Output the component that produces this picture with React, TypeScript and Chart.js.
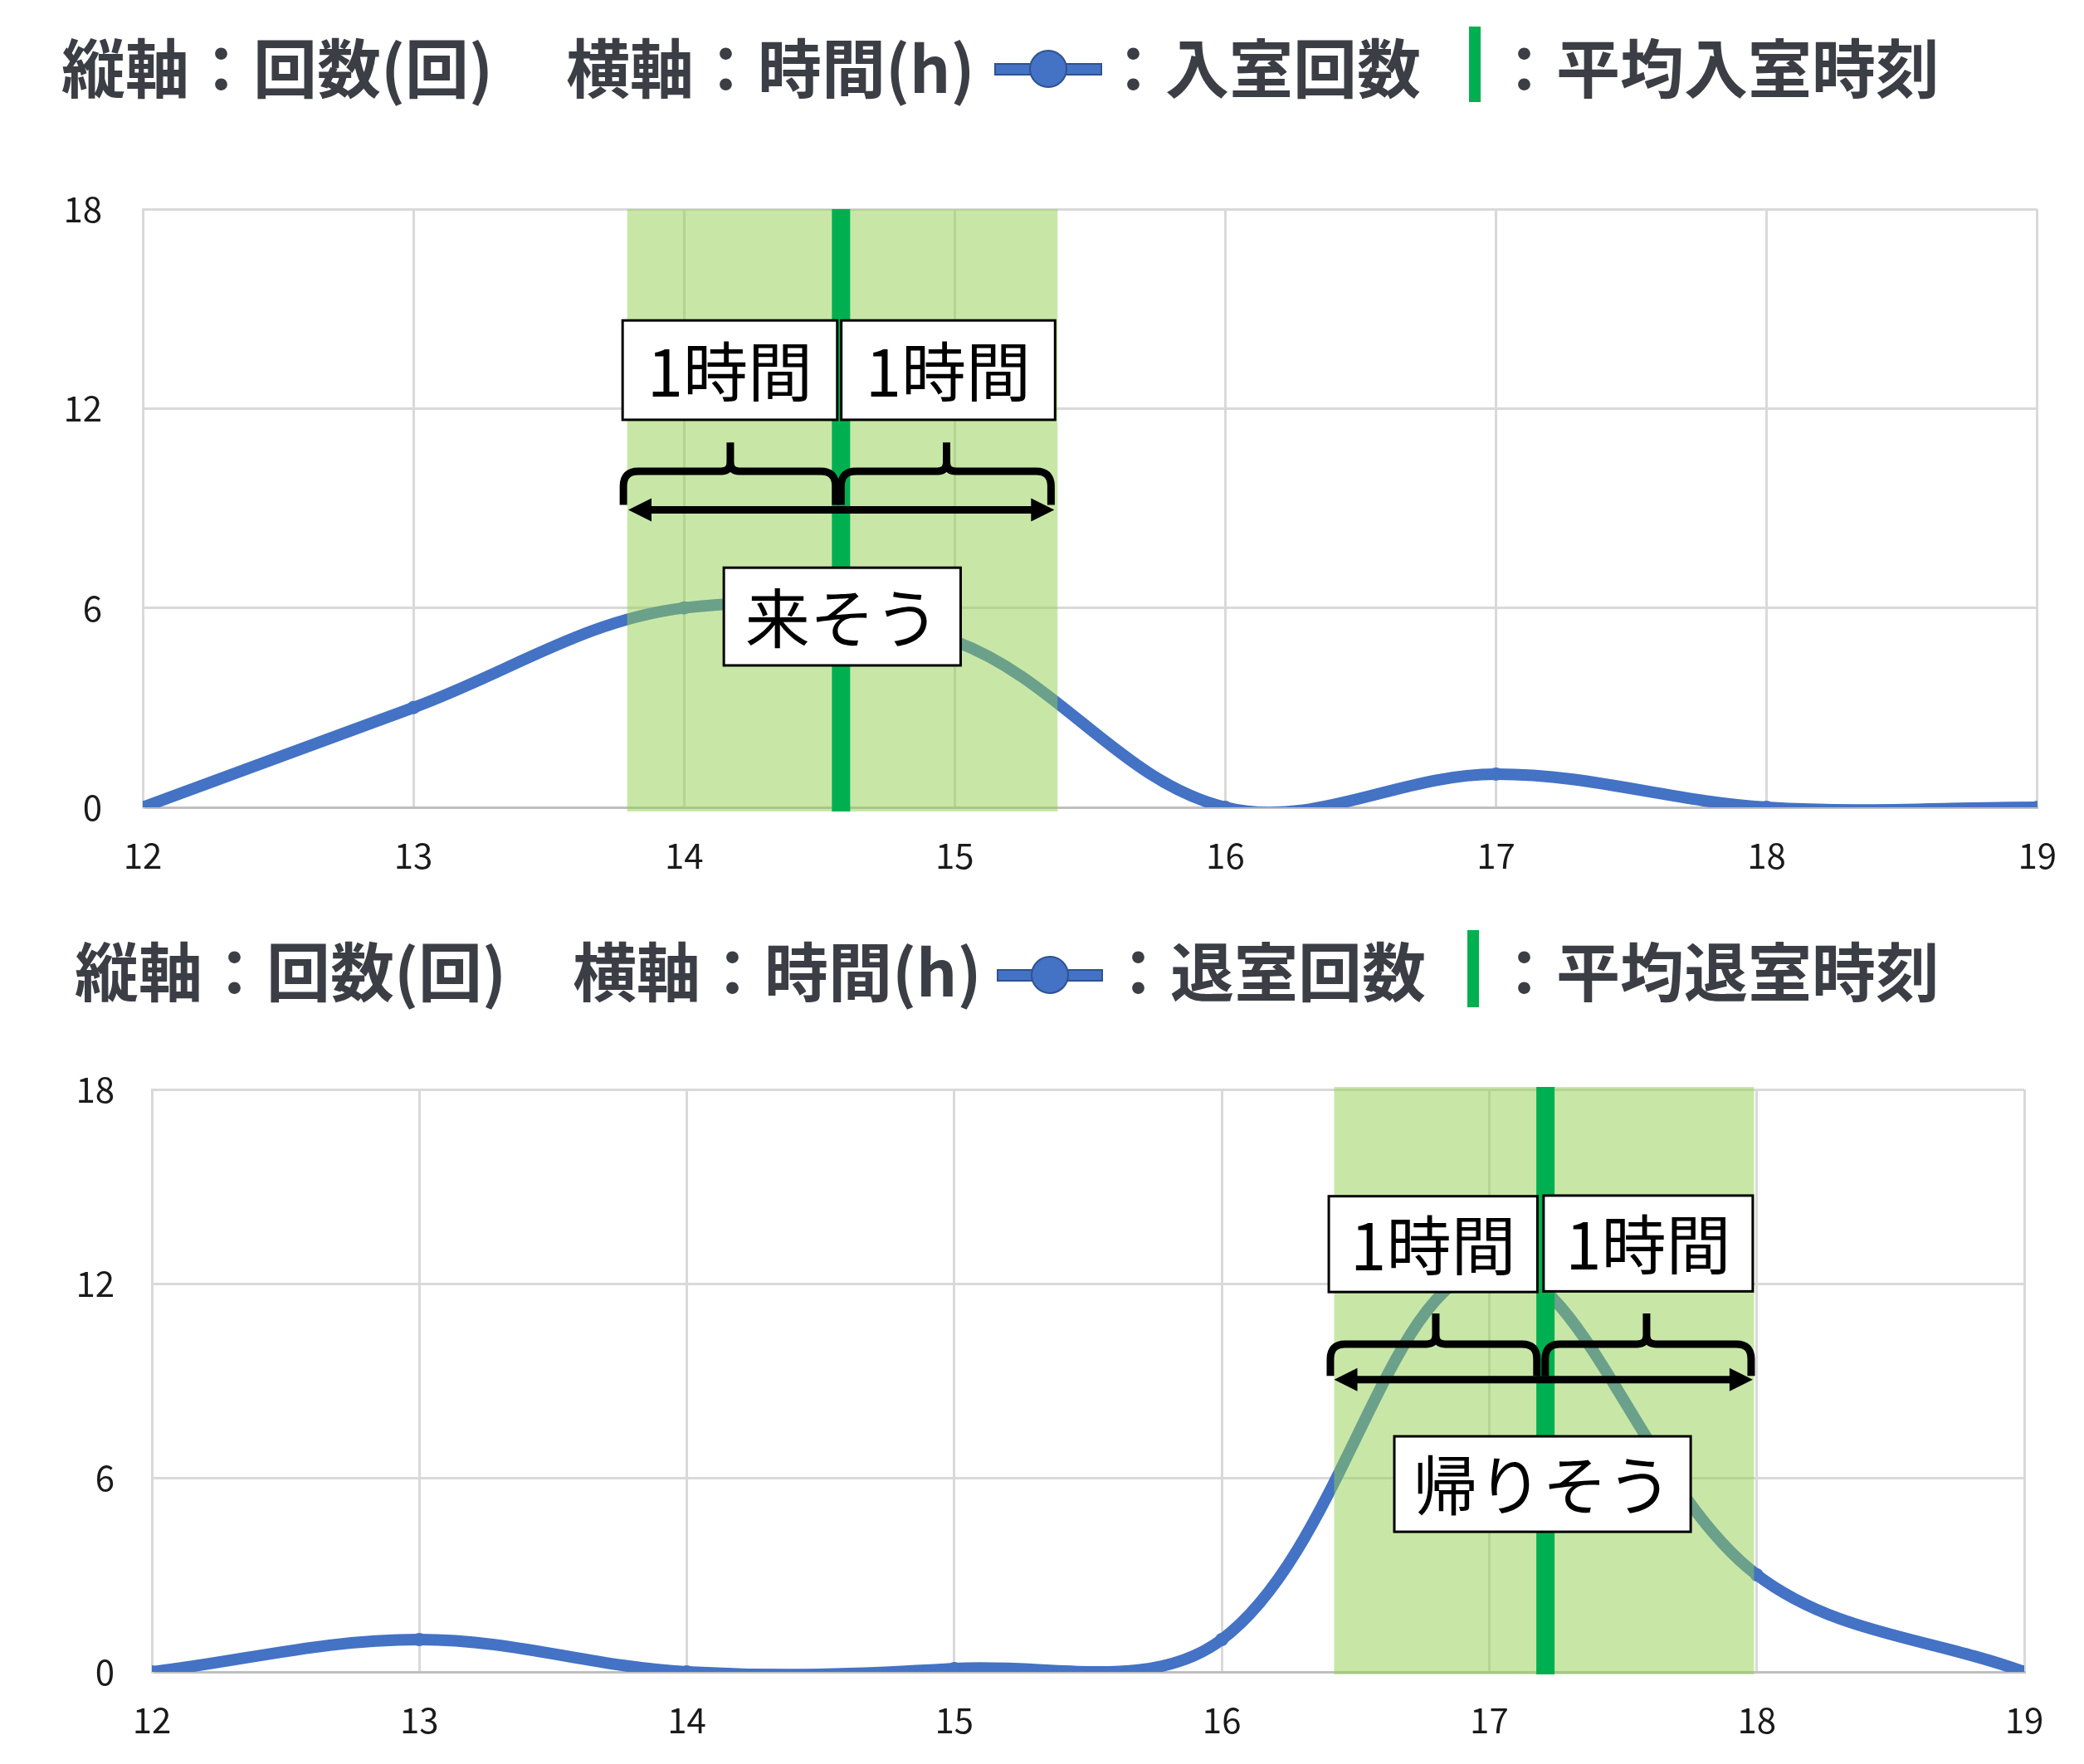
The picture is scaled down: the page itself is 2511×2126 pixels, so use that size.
import React, { useEffect, useRef } from "react";
import { Chart, registerables } from "chart.js";

Chart.register(...registerables);

// ---------------- data ----------------
const hours = [12, 13, 14, 15, 16, 17, 18, 19];
const entryCounts = [0, 3, 6, 5, 0, 1, 0, 0];
const exitCounts = [0, 1, 0, 0.1, 1, 12.5, 3, 0];
const yTicks = [0, 6, 12, 18];
const entryMean = 14.58;
const entryBand = [13.79, 15.38];
const exitMean = 17.21;
const exitBand = [16.42, 17.99];
const bandLabel = "1時間";
const entryLabel = "来そう";
const exitLabel = "帰りそう";
const axisTitle1 = "縦軸：回数(回)";
const axisTitle2 = "横軸：時間(h)";
const entryLegend = "：入室回数";
const entryMeanLegend = "：平均入室時刻";
const exitLegend = "：退室回数";
const exitMeanLegend = "：平均退室時刻";

// ---------------- annotation geometry (value units) ----------------
const entryOverlay = {
  band: entryBand,
  mean: entryMean,
  bandTopOff: 0,
  bandBottomOff: 5,
  boxes: [
    { x0: 13.773, x1: 14.566, y0: 14.65, y1: 11.66, text: bandLabel },
    { x0: 14.581, x1: 15.371, y0: 14.65, y1: 11.66, text: bandLabel },
    { x0: 14.147, x1: 15.022, y0: 7.21, y1: 4.27, text: entryLabel },
  ],
  braces: [
    { x0: 13.776, x1: 14.56, tip: 14.171 },
    { x0: 14.58, x1: 15.356, tip: 14.97 },
  ],
  braceY: { tip: 10.98, h: 10.11, end: 9.1 },
  arrow: { x0: 13.794, x1: 15.368, y: 8.95 },
};

const exitOverlay = {
  band: exitBand,
  mean: exitMean,
  bandTopOff: -3,
  bandBottomOff: 3,
  boxes: [
    { x0: 16.4, x1: 17.18, y0: 14.7, y1: 11.74, text: bandLabel },
    { x0: 17.203, x1: 17.985, y0: 14.72, y1: 11.76, text: bandLabel },
    { x0: 16.645, x1: 17.753, y0: 7.28, y1: 4.33, text: exitLabel },
  ],
  braces: [
    { x0: 16.406, x1: 17.178, tip: 16.8 },
    { x0: 17.209, x1: 17.979, tip: 17.588 },
  ],
  braceY: { tip: 11.08, h: 10.13, end: 9.15 },
  arrow: { x0: 16.42, x1: 17.985, y: 9.03 },
};

const CJK = "'Noto Sans CJK JP', 'Noto Sans', sans-serif";
const BLUE = "#4472C4";
const BLUE_DARK = "#2F528F";
const GREEN = "#00B050";
const TITLE_COLOR = "#3B3E45";

function makeOverlay(cfg: any) {
  return {
    id: "overlay",
    afterDatasetsDraw(chart: any) {
      const { ctx, chartArea } = chart;
      const xs = chart.scales.x;
      const ys = chart.scales.y;
      const X = (v: number) => xs.getPixelForValue(v);
      const Y = (v: number) => ys.getPixelForValue(v);
      ctx.save();
      // band
      const top = chartArea.top + cfg.bandTopOff;
      const bottom = chartArea.bottom + cfg.bandBottomOff;
      const bx0 = X(cfg.band[0]);
      const bx1 = X(cfg.band[1]);
      ctx.fillStyle = "rgba(146,208,80,0.5)";
      ctx.fillRect(bx0, top, bx1 - bx0, bottom - top);
      // mean line
      const mx = X(cfg.mean);
      ctx.fillStyle = GREEN;
      ctx.fillRect(mx - 11, top, 22, bottom - top);

      // boxes
      for (const b of cfg.boxes) {
        const x0 = X(b.x0), x1 = X(b.x1), y0 = Y(b.y0), y1 = Y(b.y1);
        ctx.fillStyle = "#FFFFFF";
        ctx.fillRect(x0, y0, x1 - x0, y1 - y0);
        ctx.strokeStyle = "#000000";
        ctx.lineWidth = 3;
        ctx.strokeRect(x0, y0, x1 - x0, y1 - y0);
        ctx.fillStyle = "#000000";
        ctx.font = `400 78px ${CJK}`;
        ctx.textAlign = "center";
        ctx.textBaseline = "middle";
        ctx.fillText(b.text, (x0 + x1) / 2, (y0 + y1) / 2 + 2);
      }

      // braces
      ctx.strokeStyle = "#000000";
      ctx.lineWidth = 9;
      ctx.lineJoin = "round";
      ctx.lineCap = "butt";
      const yTip = Y(cfg.braceY.tip);
      const yH = Y(cfg.braceY.h);
      const yEnd = Y(cfg.braceY.end);
      const r = 18;
      const r2 = 11;
      for (const br of cfg.braces) {
        const x0 = X(br.x0), x1 = X(br.x1), t = X(br.tip);
        ctx.beginPath();
        ctx.moveTo(x0, yEnd);
        ctx.lineTo(x0, yH + r);
        ctx.quadraticCurveTo(x0, yH, x0 + r, yH);
        ctx.lineTo(t - r2, yH);
        ctx.quadraticCurveTo(t, yH, t, yH - r2);
        ctx.lineTo(t, yTip);
        ctx.moveTo(t, yH - r2);
        ctx.quadraticCurveTo(t, yH, t + r2, yH);
        ctx.lineTo(x1 - r, yH);
        ctx.quadraticCurveTo(x1, yH, x1, yH + r);
        ctx.lineTo(x1, yEnd);
        ctx.stroke();
      }

      // double arrow
      const ax0 = X(cfg.arrow.x0), ax1 = X(cfg.arrow.x1), ay = Y(cfg.arrow.y);
      const al = 28, ah = 14;
      ctx.beginPath();
      ctx.moveTo(ax0 + al - 2, ay);
      ctx.lineTo(ax1 - al + 2, ay);
      ctx.stroke();
      ctx.fillStyle = "#000000";
      ctx.beginPath();
      ctx.moveTo(ax0, ay);
      ctx.lineTo(ax0 + al, ay - ah);
      ctx.lineTo(ax0 + al, ay + ah);
      ctx.closePath();
      ctx.fill();
      ctx.beginPath();
      ctx.moveTo(ax1, ay);
      ctx.lineTo(ax1 - al, ay - ah);
      ctx.lineTo(ax1 - al, ay + ah);
      ctx.closePath();
      ctx.fill();
      ctx.restore();
    },
  };
}

type ChartProps = {
  left: number;
  top: number;
  width: number;
  height: number;
  padding: { left: number; right: number; top: number; bottom: number };
  values: number[];
  overlay: any;
  yLabelPad: number;
};

function LineChart(p: ChartProps) {
  const ref = useRef<HTMLCanvasElement>(null);
  useEffect(() => {
    const tickFont = { family: CJK, size: 42, weight: "400" as any };
    const chart = new Chart(ref.current as HTMLCanvasElement, {
      type: "line",
      data: {
        datasets: [
          {
            data: hours.map((h, i) => ({ x: h, y: p.values[i] })),
            borderColor: BLUE,
            backgroundColor: BLUE,
            borderWidth: 14,
            tension: 0.36,
            pointRadius: 8,
            pointHoverRadius: 8,
            pointBorderWidth: 0,
            pointBackgroundColor: BLUE,
            fill: false,
          } as any,
        ],
      },
      options: {
        animation: false,
        responsive: false,
        events: [],
        layout: { padding: p.padding },
        elements: { line: { capBezierPoints: false } as any },
        plugins: {
          legend: { display: false },
          tooltip: { enabled: false },
          title: { display: false },
        },
        scales: {
          x: {
            type: "linear",
            min: 12,
            max: 19,
            afterBuildTicks: (s: any) => {
              s.ticks = hours.map((v) => ({ value: v }));
            },
            afterFit: (s: any) => {
              s.height = 100;
            },
            ticks: {
              font: tickFont,
              color: "#1A1A1A",
              padding: 33,
              maxRotation: 0,
              autoSkip: false,
              callback: (v: any) => String(v),
            },
            grid: { color: "#D9D9D9", lineWidth: 3, drawTicks: false },
            border: { color: "#BFBFBF", width: 3 },
          },
          y: {
            type: "linear",
            min: 0,
            max: 18,
            afterBuildTicks: (s: any) => {
              s.ticks = yTicks.map((v) => ({ value: v }));
            },
            afterFit: (s: any) => {
              s.width = 150;
            },
            ticks: {
              font: tickFont,
              color: "#1A1A1A",
              padding: p.yLabelPad,
              callback: (v: any) => String(v),
            },
            grid: { color: "#D9D9D9", lineWidth: 3, drawTicks: false },
            border: { color: "#D9D9D9", width: 3 },
          },
        },
      },
      plugins: [makeOverlay(p.overlay)],
    });
    return () => chart.destroy();
  }, []);
  return (
    <canvas
      ref={ref}
      width={p.width}
      height={p.height}
      style={{ position: "absolute", left: p.left, top: p.top, width: p.width, height: p.height }}
    />
  );
}

const FS = 77;

function TitleText({ text, left, cy }: { text: string; left: number; cy: number }) {
  return (
    <span
      style={{
        position: "absolute",
        left,
        top: cy - FS / 2,
        fontSize: FS,
        lineHeight: `${FS}px`,
        fontWeight: 700,
        fontFamily: CJK,
        color: TITLE_COLOR,
        whiteSpace: "nowrap",
      }}
    >
      {text}
    </span>
  );
}

function LegendMarker({ x0, x1, cx, cy }: { x0: number; x1: number; cx: number; cy: number }) {
  return (
    <>
      <div
        style={{
          position: "absolute",
          left: x0,
          top: cy - 7.5,
          width: x1 - x0,
          height: 15,
          boxSizing: "border-box",
          background: BLUE,
          border: `2px solid ${BLUE_DARK}`,
        }}
      />
      <div
        style={{
          position: "absolute",
          left: cx - 23,
          top: cy - 23,
          width: 46,
          height: 46,
          boxSizing: "border-box",
          borderRadius: "50%",
          background: BLUE,
          border: `2.5px solid ${BLUE_DARK}`,
        }}
      />
    </>
  );
}

function GreenBar({ left, top, height }: { left: number; top: number; height: number }) {
  return <div style={{ position: "absolute", left, top, width: 14, height, background: GREEN }} />;
}

export default function App() {
  return (
    <div style={{ position: "absolute", left: 0, top: 0, width: 2511, height: 2126, background: "#FFFFFF", overflow: "hidden" }}>
      {/* top title */}
      <TitleText text={axisTitle1} left={74} cy={78} />
      <TitleText text={axisTitle2} left={682} cy={78} />
      <LegendMarker x0={1198} x1={1328} cx={1263} cy={83} />
      <TitleText text={entryLegend} left={1327} cy={78} />
      <GreenBar left={1770} top={32} height={91} />
      <TitleText text={entryMeanLegend} left={1798} cy={78} />

      <LineChart
        left={0}
        top={150}
        width={2511}
        height={950}
        padding={{ left: 22, right: 53, top: 102, bottom: 27 }}
        values={entryCounts}
        overlay={entryOverlay}
        yLabelPad={49}
      />

      {/* bottom title */}
      <TitleText text={axisTitle1} left={90} cy={1167} />
      <TitleText text={axisTitle2} left={690} cy={1167} />
      <LegendMarker x0={1201} x1={1329} cx={1265} cy={1175} />
      <TitleText text={exitLegend} left={1333} cy={1167} />
      <GreenBar left={1768} top={1121} height={93} />
      <TitleText text={exitMeanLegend} left={1798} cy={1167} />

      <LineChart
        left={0}
        top={1220}
        width={2511}
        height={900}
        padding={{ left: 33, right: 72, top: 93, bottom: 5 }}
        values={exitCounts}
        overlay={exitOverlay}
        yLabelPad={45}
      />
    </div>
  );
}
